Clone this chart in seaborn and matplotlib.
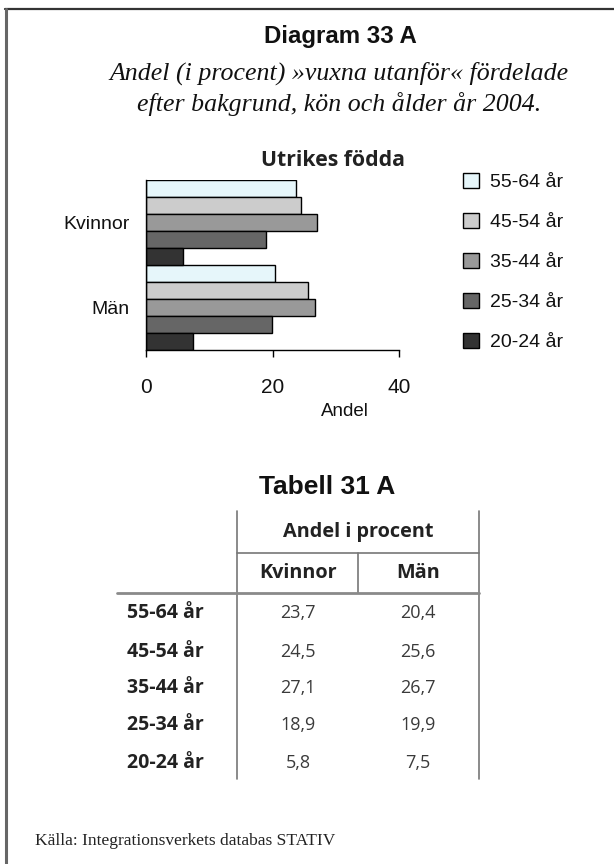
import matplotlib
matplotlib.use("Agg")
import matplotlib.pyplot as plt
from matplotlib.lines import Line2D
import pandas as pd
import seaborn as sns

# Data: share (%) of "adults outside" among foreign-born, 2004
ages = ["55-64 år", "45-54 år", "35-44 år", "25-34 år", "20-24 år"]
genders = ["Kvinnor", "Män"]
kvinnor = [23.7, 24.5, 27.1, 18.9, 5.8]
man = [20.4, 25.6, 26.7, 19.9, 7.5]
age_colors = ["#E3F8FD", "#CCCCCC", "#999999", "#666666", "#333333"]
x_ticks = [0, 20, 40]

df = pd.DataFrame({
    "Kön": ["Kvinnor"] * len(ages) + ["Män"] * len(ages),
    "Ålder": ages + ages,
    "Andel": kvinnor + man,
})

sns.set_style("white")
plt.rcParams["font.family"] = ["Liberation Sans", "DejaVu Sans"]

W, H = 614, 864
fig = plt.figure(figsize=(W / 100, H / 100), dpi=100)


def fx(x):
    return x / W


def fy(y):
    return 1 - y / H


# Bar chart
ax = fig.add_axes([fx(146), fy(350), fx(399) - fx(146), fy(180) - fy(350)])
sns.barplot(data=df, x="Andel", y="Kön", hue="Ålder", hue_order=ages,
            order=genders, palette=age_colors, orient="h", width=1.0, gap=0,
            edgecolor="black", linewidth=1.0, ax=ax, legend=True)
ax.set_xlim(0, 40)
ax.set_ylim(1.5, -0.5)
ax.set_xticks(x_ticks)
ax.set_xticklabels([str(t) for t in x_ticks], fontsize=15, color="#111111")
ax.tick_params(axis="x", direction="out", length=5, width=1, color="black",
               pad=15, bottom=True)
ax.tick_params(axis="y", length=0, pad=12, labelsize=14, labelcolor="#111111")
ax.set_ylabel("")
ax.set_xlabel("Andel", fontsize=13.5, color="#111111")
ax.xaxis.set_label_coords(0.787, -0.359)
ax.xaxis.label.set_va("center")
for side in ["top", "right"]:
    ax.spines[side].set_visible(False)
for side in ["left", "bottom"]:
    ax.spines[side].set_color("black")
    ax.spines[side].set_linewidth(1.0)

handles, labels = ax.get_legend_handles_labels()
ax.get_legend().remove()
fig.legend(handles, labels, loc="upper left",
           bbox_to_anchor=(fx(455), fy(165)), frameon=False, fontsize=14,
           handlelength=0.82, handleheight=0.82, handletextpad=0.57,
           labelspacing=1.12, borderaxespad=0, labelcolor="#111111")

fig.text(fx(333), fy(160), "Utrikes födda", ha="center", va="center",
         fontsize=15.3, fontweight="bold", family="Open Sans", color="#222222")

# Headings
fig.text(fx(340), fy(37), "Diagram 33 A", ha="center", va="center",
         fontsize=17.3, fontweight="bold", color="#111111")
fig.text(fx(339), fy(73), "Andel (i procent) »vuxna utanför« fördelade",
         ha="center", va="center", fontsize=18.6, style="italic",
         family="Liberation Serif", color="#111111")
fig.text(fx(339), fy(104), "efter bakgrund, kön och ålder år 2004.",
         ha="center", va="center", fontsize=18.6, style="italic",
         family="Liberation Serif", color="#111111")

# Table
fig.text(fx(327), fy(487), "Tabell 31 A", ha="center", va="center",
         fontsize=19, fontweight="bold", color="#111111")


def line(x0, y0, x1, y1, color="#777777", lw=1.2):
    fig.add_artist(Line2D([fx(x0), fx(x1)], [fy(y0), fy(y1)], color=color,
                          lw=lw, transform=fig.transFigure))


line(237, 511, 237, 779)
line(479, 511, 479, 779)
line(237, 553, 479, 553)
line(358, 553, 358, 593)
line(117, 593, 479, 593, color="#8a8a8a", lw=2.0)

head_kw = dict(ha="center", va="center", fontsize=14.3, fontweight="bold",
               family="Open Sans", color="#222222")
fig.text(fx(358), fy(532), "Andel i procent", **head_kw)
fig.text(fx(298), fy(573), "Kvinnor", **head_kw)
fig.text(fx(418), fy(573), "Män", **head_kw)

row_y = [613, 652, 688, 725, 763]
for age, k, m, y in zip(ages, kvinnor, man, row_y):
    fig.text(fx(127), fy(y), age, ha="left", va="center", fontsize=14,
             fontweight="bold", family="Open Sans", color="#222222")
    fig.text(fx(298), fy(y), f"{k:.1f}".replace(".", ","), ha="center",
             va="center", fontsize=13, family="Open Sans", color="#3a3a3a")
    fig.text(fx(418), fy(y), f"{m:.1f}".replace(".", ","), ha="center",
             va="center", fontsize=13, family="Open Sans", color="#3a3a3a")

# Source
fig.text(fx(35), fy(841), "Källa: Integrationsverkets databas STATIV",
         ha="left", va="center", fontsize=12.5, family="Liberation Serif",
         color="#222222")

# Page frame (top and left edges)
line(5, 9, 614, 9, color="#333333", lw=1.6)
line(6, 9, 6, 864, color="#666666", lw=2.2)

fig.savefig("out.png", dpi=100, facecolor="white")
